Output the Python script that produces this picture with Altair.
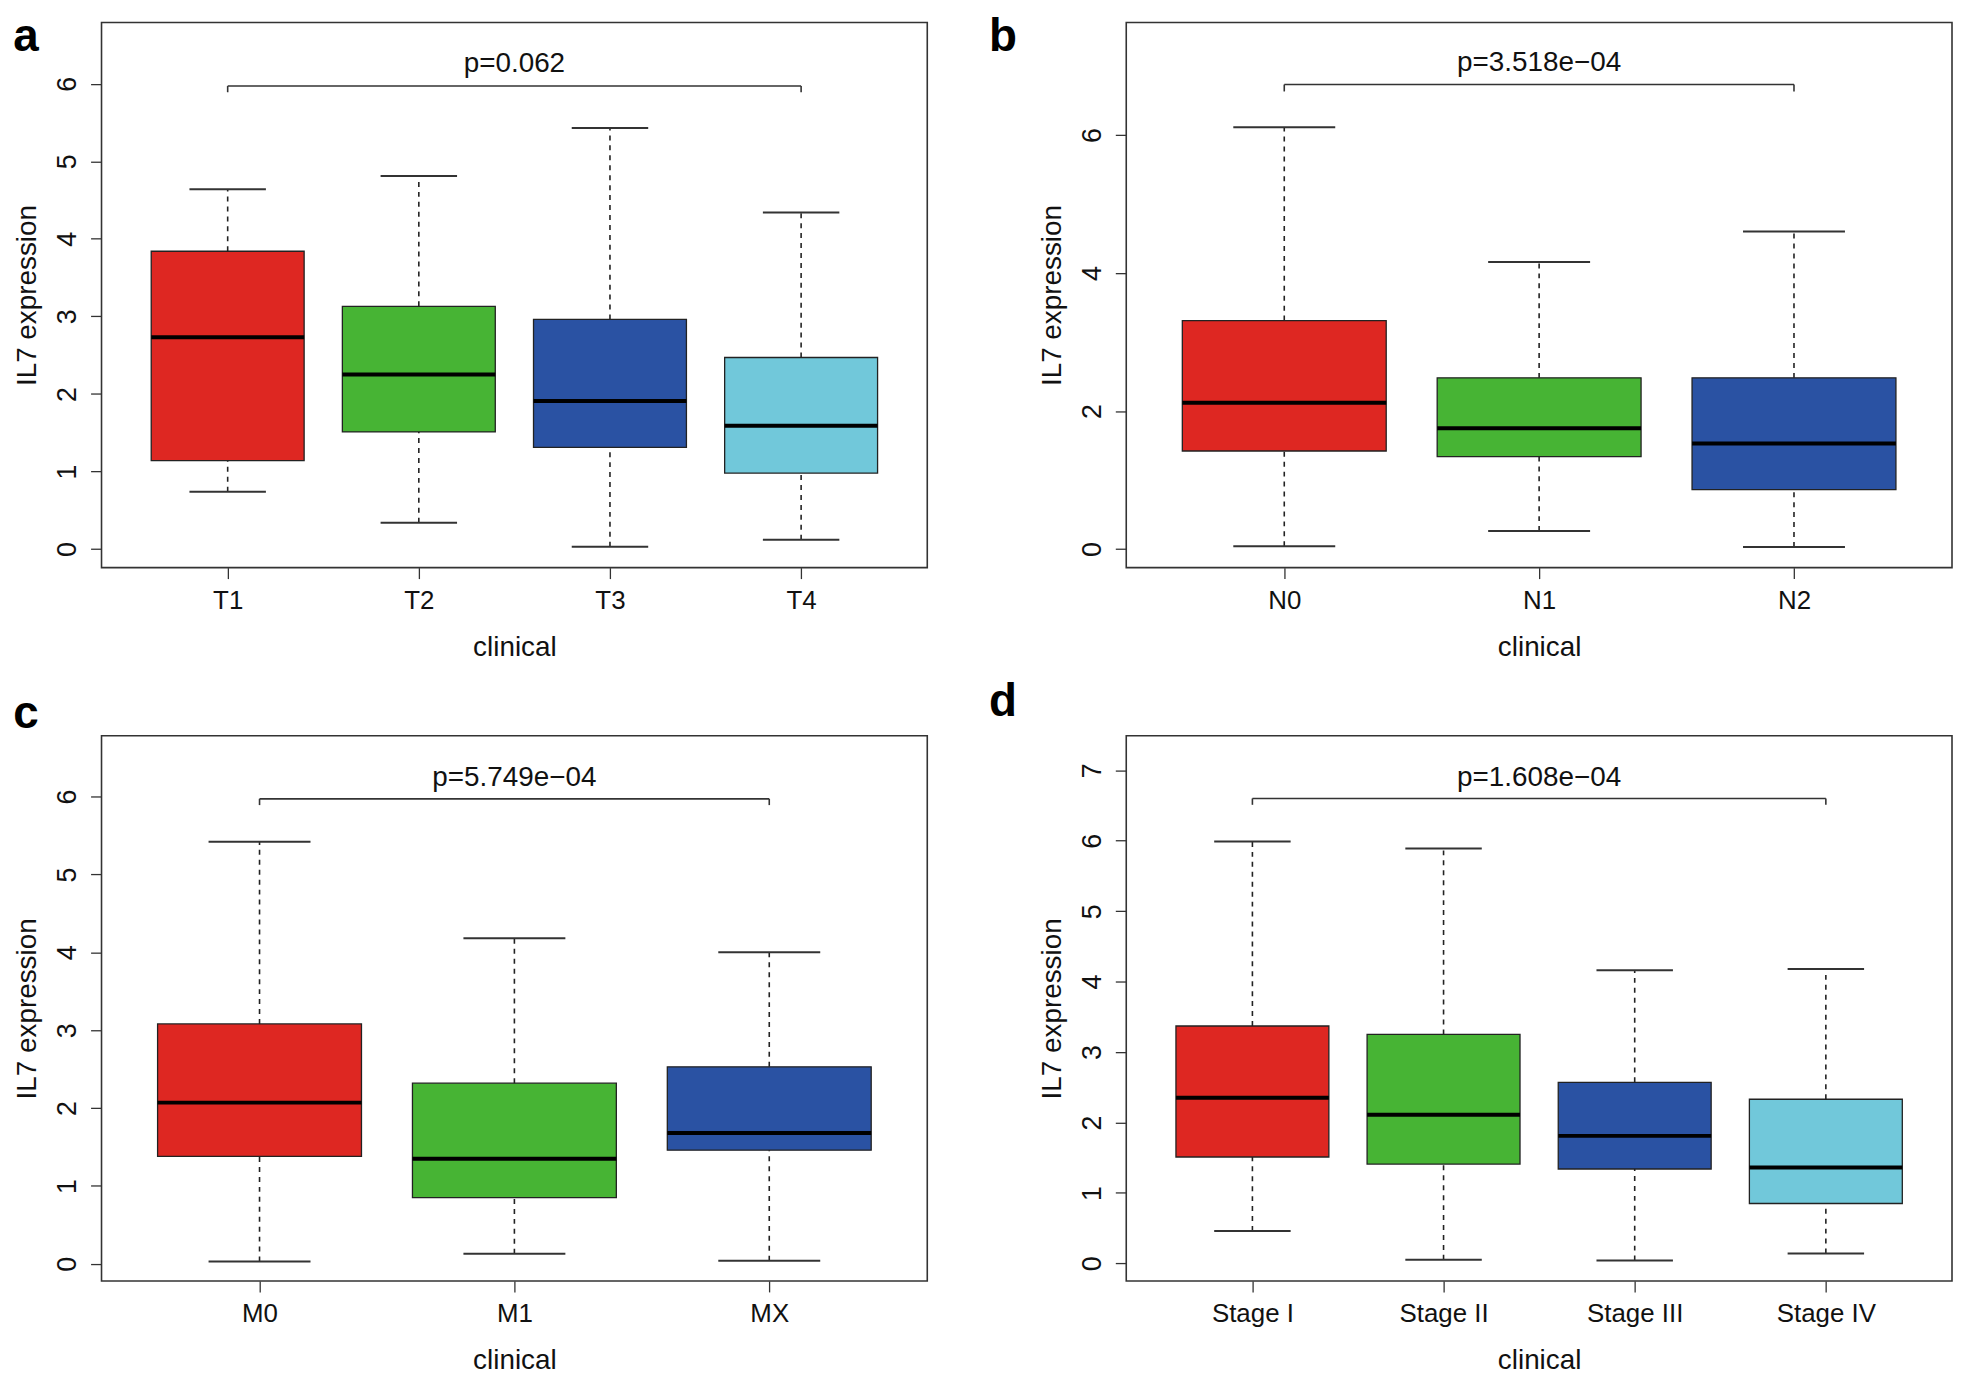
import altair as alt
import pandas as pd

# ---------------- data ----------------
A_CATS = ["T1", "T2", "T3", "T4"]
A_LOW = [0.74, 0.34, 0.03, 0.12]
A_Q1 = [1.14, 1.51, 1.31, 0.98]
A_MED = [2.73, 2.25, 1.91, 1.59]
A_Q3 = [3.84, 3.13, 2.96, 2.47]
A_HIGH = [4.64, 4.81, 5.43, 4.34]
A_P = "p=0.062"
A_BRACKET = [5.97, 5.89, 6.26]   # bracket y, bracket end y, label y
A_YDOM = [-0.24, 6.79]
A_TICKS = [0, 1, 2, 3, 4, 5, 6]

B_CATS = ["N0", "N1", "N2"]
B_LOW = [0.04, 0.26, 0.03]
B_Q1 = [1.42, 1.34, 0.86]
B_MED = [2.12, 1.75, 1.53]
B_Q3 = [3.31, 2.48, 2.48]
B_HIGH = [6.11, 4.16, 4.60]
B_P = "p=3.518e\u221204"
B_BRACKET = [6.73, 6.63, 7.04]
B_YDOM = [-0.27, 7.63]
B_TICKS = [0, 2, 4, 6]

C_CATS = ["M0", "M1", "MX"]
C_LOW = [0.03, 0.13, 0.04]
C_Q1 = [1.38, 0.85, 1.46]
C_MED = [2.07, 1.35, 1.68]
C_Q3 = [3.08, 2.32, 2.53]
C_HIGH = [5.42, 4.18, 4.00]
C_P = "p=5.749e\u221204"
C_BRACKET = [5.97, 5.89, 6.24]
C_YDOM = [-0.22, 6.78]
C_TICKS = [0, 1, 2, 3, 4, 5, 6]

D_CATS = ["Stage I", "Stage II", "Stage III", "Stage IV"]
D_LOW = [0.46, 0.05, 0.04, 0.14]
D_Q1 = [1.51, 1.41, 1.34, 0.85]
D_MED = [2.35, 2.11, 1.81, 1.36]
D_Q3 = [3.37, 3.25, 2.57, 2.33]
D_HIGH = [5.99, 5.89, 4.16, 4.18]
D_P = "p=1.608e\u221204"
D_BRACKET = [6.60, 6.51, 6.89]
D_YDOM = [-0.25, 7.49]
D_TICKS = [0, 1, 2, 3, 4, 5, 6, 7]

COLORS = ["#DE2722", "#47B434", "#2A52A3", "#71C8DA"]

FONT = "Liberation Sans"
W, H = 830, 548


def panel(cats, low, q1, med, q3, high, p_text, bracket, ydom, ticks, letter, letter_x, letter_y):
    n = len(cats)
    df = pd.DataFrame({
        "cat": cats, "idx": list(range(1, n + 1)),
        "low": low, "q1": q1, "med": med, "q3": q3, "high": high,
        "color": COLORS[:n],
    })
    xs = alt.Scale(domain=[0.5 - 0.04 * n, n + 0.5 + 0.04 * n], nice=False, zero=False)
    ys = alt.Scale(domain=ydom, nice=False, zero=False)
    lab_arr = "[" + ",".join("'" + c + "'" for c in cats) + "]"

    xaxis = alt.Axis(
        values=list(range(1, n + 1)), labelExpr=lab_arr + "[datum.value - 1]",
        title="clinical", grid=False, domain=False, tickSize=11, tickColor="#333",
        tickWidth=1.3, labelFontSize=26, labelPadding=9, titleFontSize=28,
        titleFontWeight="normal", titlePadding=20, labelFont=FONT, titleFont=FONT,
        labelColor="#111", titleColor="#111",
    )
    yaxis = alt.Axis(
        values=ticks, title="IL7 expression", grid=False, domain=False, tickSize=11,
        tickColor="#333", tickWidth=1.3, labelAngle=270, labelAlign="center",
        labelBaseline="bottom", labelFontSize=27, labelPadding=9, titleFontSize=28,
        titleFontWeight="normal", titlePadding=12, labelFont=FONT, titleFont=FONT,
        labelColor="#111", titleColor="#111",
    )

    def X(f):
        return alt.X(f, scale=xs, axis=xaxis)

    def Y(f):
        return alt.Y(f, scale=ys, axis=yaxis)

    base = alt.Chart(df).transform_calculate(
        bx1="datum.idx - 0.4", bx2="datum.idx + 0.4",
        cx1="datum.idx - 0.2", cx2="datum.idx + 0.2",
    )

    whisk_hi = base.mark_rule(color="#222", strokeWidth=1.6, strokeDash=[5, 5]).encode(
        x=X("idx:Q"), y=Y("q3:Q"), y2="high:Q",
    )
    whisk_lo = base.mark_rule(color="#222", strokeWidth=1.6, strokeDash=[5, 5]).encode(
        x=X("idx:Q"), y=Y("low:Q"), y2="q1:Q",
    )
    cap_hi = base.mark_rule(color="#333", strokeWidth=2).encode(
        x=X("cx1:Q"), x2="cx2:Q", y=Y("high:Q"),
    )
    cap_lo = base.mark_rule(color="#333", strokeWidth=2).encode(
        x=X("cx1:Q"), x2="cx2:Q", y=Y("low:Q"),
    )
    box = base.mark_rect(stroke="#222", strokeWidth=1.3).encode(
        x=X("bx1:Q"), x2="bx2:Q", y=Y("q1:Q"), y2="q3:Q",
        fill=alt.Fill("color:N", scale=None),
    )
    median = base.mark_rule(color="#000", strokeWidth=4).encode(
        x=X("bx1:Q"), x2="bx2:Q", y=Y("med:Q"),
    )

    bdf = pd.DataFrame({
        "x1": [1, 1, n], "x2": [n, 1, n],
        "y1": [bracket[0], bracket[0], bracket[0]],
        "y2": [bracket[0], bracket[1], bracket[1]],
    })
    br = alt.Chart(bdf).mark_rule(color="#333", strokeWidth=1.6).encode(
        x=X("x1:Q"), x2="x2:Q", y=Y("y1:Q"), y2="y2:Q",
    )
    pdf = pd.DataFrame({"x": [(1 + n) / 2], "y": [bracket[2]], "t": [p_text]})
    ptxt = alt.Chart(pdf).mark_text(font=FONT, fontSize=28, color="#111", baseline="middle").encode(
        x=X("x:Q"), y=Y("y:Q"), text="t:N",
    )
    ldf = pd.DataFrame({"t": [letter]})
    ltxt = alt.Chart(ldf).mark_text(font=FONT, fontSize=46, fontWeight="bold", color="#000",
                                    align="center", baseline="middle").encode(
        x=alt.value(letter_x), y=alt.value(letter_y), text="t:N",
    )

    return alt.layer(box, whisk_hi, whisk_lo, cap_hi, cap_lo, median, br, ptxt, ltxt).properties(
        width=W, height=H
    )


pa = panel(A_CATS, A_LOW, A_Q1, A_MED, A_Q3, A_HIGH, A_P, A_BRACKET, A_YDOM, A_TICKS, "a", -76, 15)
pb = panel(B_CATS, B_LOW, B_Q1, B_MED, B_Q3, B_HIGH, B_P, B_BRACKET, B_YDOM, B_TICKS, "b", -124, 15)
pc = panel(C_CATS, C_LOW, C_Q1, C_MED, C_Q3, C_HIGH, C_P, C_BRACKET, C_YDOM, C_TICKS, "c", -76, -22)
pd_ = panel(D_CATS, D_LOW, D_Q1, D_MED, D_Q3, D_HIGH, D_P, D_BRACKET, D_YDOM, D_TICKS, "d", -124, -34)

chart = alt.vconcat(
    alt.hconcat(pa, pb, spacing=60),
    alt.hconcat(pc, pd_, spacing=60),
    spacing=16,
).properties(
    padding={"left": 4, "top": 2, "right": 0, "bottom": 0},
    background="white",
).configure_view(stroke="#333", strokeWidth=1.6)

chart.save("out.html", embed_options={"renderer": "svg", "actions": False})
